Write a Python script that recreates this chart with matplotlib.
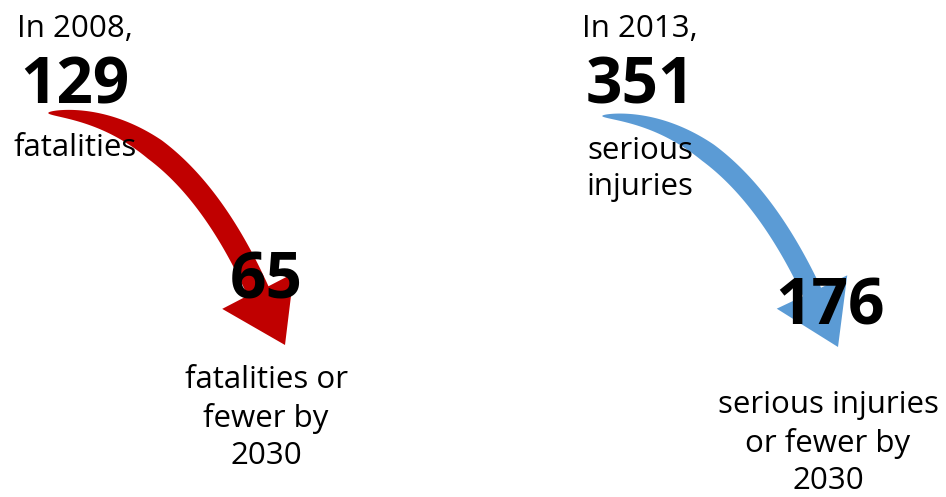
import numpy as np
import matplotlib.pyplot as plt

# ---- data ----
years = [2008, 2013]
baseline_values = [129, 351]
baseline_labels = ["fatalities", "serious\ninjuries"]
target_values = [65, 176]
target_labels = ["fatalities or\nfewer by\n2030", "serious injuries\nor fewer by\n2030"]
target_year = 2030
colors = ["#C00000", "#5B9BD5"]

# ---- layout (pixel coords) ----
W, H = 946, 497
fig = plt.figure(figsize=(W / 100, H / 100), dpi=100)
ax = fig.add_axes([0, 0, 1, 1])
ax.set_xlim(0, W)
ax.set_ylim(H, 0)
ax.axis("off")

REG = "Open Sans"
FS = 22.5
FB = 46


def curved_arrow(ax, p0, p1, p2, tip, wmax, head_half, color):
    p0, p1, p2, tip = map(np.asarray, (p0, p1, p2, tip))
    t = np.linspace(0, 1, 200)[:, None]
    pts = (1 - t) ** 2 * p0 + 2 * (1 - t) * t * p1 + t ** 2 * p2
    der = 2 * (1 - t) * (p1 - p0) + 2 * t * (p2 - p1)
    der = der / np.linalg.norm(der, axis=1, keepdims=True)
    nrm = np.column_stack([-der[:, 1], der[:, 0]])
    w = wmax * np.clip(t[:, 0] / 0.45, 0, 1) ** 0.55
    w = w[:, None] / 2
    left = pts + nrm * w
    right = pts - nrm * w
    d = tip - p2
    d = d / np.linalg.norm(d)
    n = np.array([-d[1], d[0]])
    hl = p2 + n * head_half
    hr = p2 - n * head_half
    poly = np.vstack([left, hl, tip, hr, right[::-1]])
    ax.fill(poly[:, 0], poly[:, 1], color=color, lw=0, zorder=1)


curved_arrow(ax, (48, 113), (178, 114), (258, 291), (285, 345), 23, 40, colors[0])
curved_arrow(ax, (602, 116), (730, 118), (812, 292), (838, 347), 20, 39, colors[1])

cx = [75, 640]
for i in range(2):
    ax.text(cx[i], 29, f"In {years[i]},", fontsize=FS, family=REG,
            ha="center", va="center", zorder=3)
    ax.text(cx[i], 87, f"{baseline_values[i]}", fontsize=FB, family=REG,
            weight="bold", ha="center", va="center", zorder=3)
ax.text(75, 148, baseline_labels[0], fontsize=FS, family=REG,
        ha="center", va="center", zorder=3)
ax.text(640, 169, baseline_labels[1], fontsize=FS, family=REG,
        ha="center", va="center", zorder=3, linespacing=1.25)

ax.text(266, 282, f"{target_values[0]}", fontsize=FB, family=REG,
        weight="bold", ha="center", va="center", zorder=3)
ax.text(830, 308, f"{target_values[1]}", fontsize=FB, family=REG,
        weight="bold", ha="center", va="center", zorder=3)

ax.text(266, 418, target_labels[0], fontsize=FS, family=REG,
        ha="center", va="center", zorder=3, linespacing=1.32)
ax.text(828, 443, target_labels[1], fontsize=FS, family=REG,
        ha="center", va="center", zorder=3, linespacing=1.32)

fig.savefig("out.png", dpi=100)
